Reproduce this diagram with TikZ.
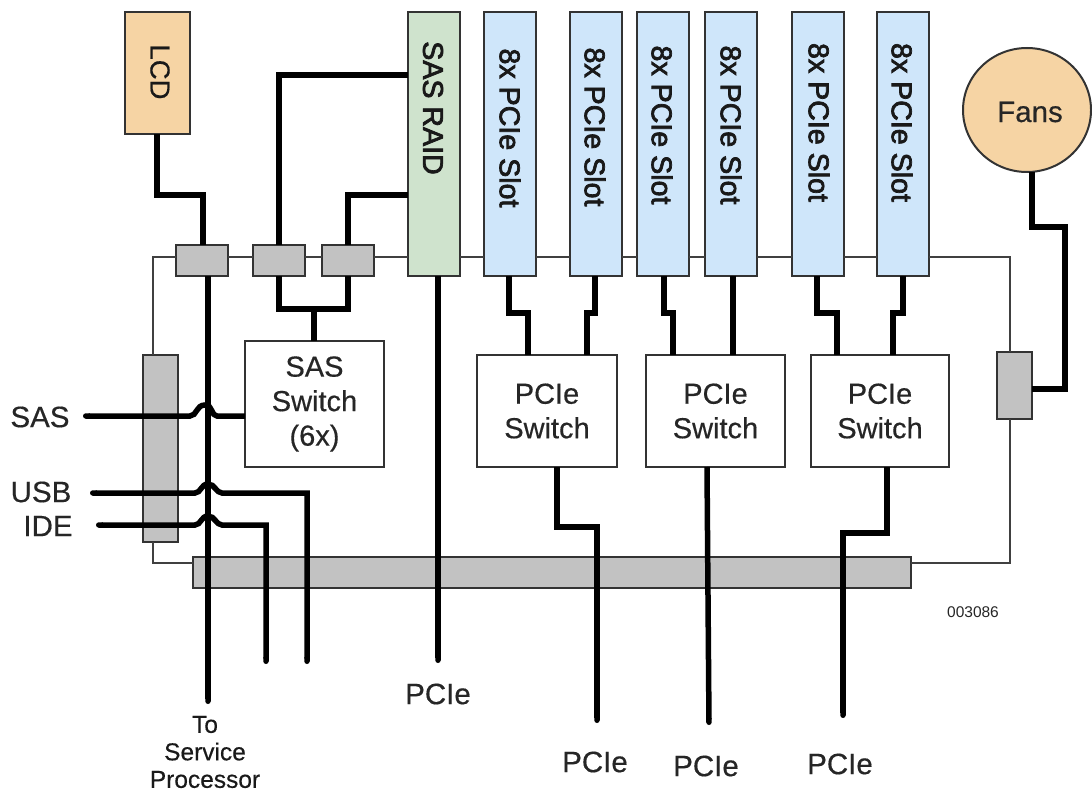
\documentclass[tikz,border=0pt]{standalone}
\usepackage{fontspec}
\usetikzlibrary{arrows.meta,shapes.geometric}
\setmainfont{Liberation Sans}
\newfontfamily\heavy[FakeBold=2.5]{Liberation Sans}
\newfontfamily\semi[FakeBold=0.4]{Liberation Sans}
\definecolor{slotblue}{HTML}{CFE6FA}
\definecolor{raidgreen}{HTML}{CFE3CD}
\definecolor{warm}{HTML}{F6D4A4}
\tikzset{
  x=1pt,y=-1pt,
  boxa/.style={draw=black!80,line width=2pt,anchor=north west,inner sep=0pt,outer sep=0pt,text=black!85},
  grayb/.style={boxa,fill=black!24},
  slot/.style={boxa,fill=slotblue,minimum width=52pt,minimum height=264pt},
  swbox/.style={boxa,fill=white,align=center,font=\semi\fontsize{29}{34.5}\selectfont},
  thinl/.style={draw=black!75,line width=2pt},
  thickl/.style={draw=black,line width=5.5pt,line join=miter},
  free/.style={-{Round Cap[]}},
  freeboth/.style={{Round Cap[]}-{Round Cap[]}},
  vtext/.style={font=\heavy\fontsize{28.6}{30}\selectfont,rotate=-90,text=black!90,inner sep=0pt},
  lab/.style={font=\semi\fontsize{29.5}{31}\selectfont,text=black!85,inner sep=0pt},
  sm/.style={font=\semi\fontsize{24.5}{27.5}\selectfont,text=black!90,inner sep=0pt,align=center},
}
\begin{document}
\begin{tikzpicture}
\useasboundingbox (0,0) rectangle (1092,791);
% boxes
\node[boxa,fill=warm,minimum width=65pt,minimum height=122pt] (lcd) at (125,12) {};
\node[vtext,font=\semi\fontsize{27.5}{30}\selectfont] (lcdt) at (160,72) {LCD};
\node[boxa,fill=raidgreen,minimum width=52pt,minimum height=264pt] (raid) at (408,12) {};
\node[slot] (s1) at (484,12) {};
\node[slot] (s2) at (570,12) {};
\node[slot] (s3) at (637,12) {};
\node[slot] (s4) at (705,12) {};
\node[slot] (s5) at (792,12) {};
\node[slot] (s6) at (877,12) {};
\node[draw=black!80,line width=2pt,ellipse,fill=warm,minimum width=128pt,minimum height=124pt,inner sep=0pt,outer sep=0pt] (fans) at (1027,110) {};
\node[grayb,minimum width=52pt,minimum height=31pt] (g1) at (176,245) {};
\node[grayb,minimum width=52pt,minimum height=31pt] (g2) at (253,245) {};
\node[grayb,minimum width=52pt,minimum height=31pt] (g3) at (322,245) {};
\node[grayb,minimum width=35pt,minimum height=187pt] (gl) at (143,355) {};
\node[grayb,minimum width=718pt,minimum height=31pt] (gb) at (193,557) {};
\node[grayb,minimum width=35pt,minimum height=67pt] (gr) at (997,352) {};
\node[swbox,minimum width=139pt,minimum height=126pt] (sw) at (245,341) {SAS\\Switch\\(6x)};
\node[swbox,minimum width=140pt,minimum height=112pt] (p1) at (477,355) {PCIe\\Switch};
\node[swbox,minimum width=139pt,minimum height=112pt] (p2) at (646,355) {PCIe\\Switch};
\node[swbox,minimum width=138pt,minimum height=112pt] (p3) at (811,355) {PCIe\\Switch};
% frame
\draw[thinl] (153,0 |- gl.north) -- (153,257) -- (g1.west |- 0,257);
\draw[thinl] (g1.east |- 0,257) -- (g2.west |- 0,257);
\draw[thinl] (g2.east |- 0,257) -- (g3.west |- 0,257);
\draw[thinl] (g3.east |- 0,257) -- (raid.west |- 0,257);
\draw[thinl] (raid.east |- 0,257) -- (s1.west |- 0,257);
\draw[thinl] (s1.east |- 0,257) -- (s2.west |- 0,257);
\draw[thinl] (s2.east |- 0,257) -- (s3.west |- 0,257);
\draw[thinl] (s3.east |- 0,257) -- (s4.west |- 0,257);
\draw[thinl] (s4.east |- 0,257) -- (s5.west |- 0,257);
\draw[thinl] (s5.east |- 0,257) -- (s6.west |- 0,257);
\draw[thinl] (s6.east |- 0,257) -- (1010,257) -- (1010,0 |- gr.north);
\draw[thinl] (153,0 |- gl.south) -- (153,563) -- (gb.west |- 0,563);
\draw[thinl] (1010,0 |- gr.south) -- (1010,563) -- (gb.east |- 0,563);
% free ends
\coordinate (esas) at (83,416);
\coordinate (eusb) at (90,493);
\coordinate (eide) at (96,525);
\coordinate (esp) at (208,704);
\coordinate (eu) at (307,664);
\coordinate (ei) at (266,664);
\coordinate (er) at (438,663);
\coordinate (e1) at (597,723);
\coordinate (e2) at (709,725);
\coordinate (e3) at (843,718);
% thick connectors
\draw[thickl] (157,0 |- lcd.south) -- (157,195) -- (203,195) -- (203,0 |- g1.north);
\draw[thickl] (279,0 |- g2.north) -- (279,75) -- (raid.west |- 0,75);
\draw[thickl] (348,0 |- g3.north) -- (348,195) -- (raid.west |- 0,195);
\draw[thickl] (279,0 |- g2.south) -- (279,309) -- (348,309) -- (348,0 |- g3.south);
\draw[thickl] (314,309) -- (sw.north -| 314,0);
\draw[thickl,free] (208,0 |- g1.south) -- (esp);
\draw[thickl,free] (sw.west |- esas) -- (217,416) .. controls (211,416) and (213,405) .. (205,405) .. controls (196,405) and (197,416) .. (190,416) -- (esas);
\draw[thickl,freeboth] (eusb) -- (195,493) .. controls (201,493) and (201,484) .. (208,484) .. controls (215,484) and (216,493) .. (222,493) -- (307,493) -- (eu);
\draw[thickl,freeboth] (eide) -- (195,525) .. controls (201,525) and (201,516) .. (208,516) .. controls (215,516) and (216,525) .. (222,525) -- (266,525) -- (ei);
\draw[thickl,free] (438,0 |- raid.south) -- (er);
\draw[thickl] (509,0 |- s1.south) -- (509,313) -- (528,313) -- (528,0 |- p1.north);
\draw[thickl] (595,0 |- s2.south) -- (595,313) -- (587,313) -- (587,0 |- p1.north);
\draw[thickl] (664,0 |- s3.south) -- (664,313) -- (673,313) -- (673,0 |- p2.north);
\draw[thickl] (733,0 |- s4.south) -- (733,0 |- p2.north);
\draw[thickl] (817,0 |- s5.south) -- (817,313) -- (837,313) -- (837,0 |- p3.north);
\draw[thickl] (903,0 |- s6.south) -- (903,313) -- (893,313) -- (893,0 |- p3.north);
\draw[thickl,free] (557,0 |- p1.south) -- (557,527) -- (597,527) -- (e1);
\draw[thickl,free] (707,0 |- p2.south) -- (e2);
\draw[thickl,free] (887,0 |- p3.south) -- (887,533) -- (843,533) -- (e3);
\draw[thickl] (1032,0 |- fans.south) -- (1032,227) -- (1065,227) -- (1065,389) -- (gr.east |- 0,389);
% labels
\node[vtext] (traid) at (433,108) {SAS RAID};
\node[vtext] (t1) at (510,128) {8x PCIe Slot};
\node[vtext] (t2) at (595,127) {8x PCIe Slot};
\node[vtext] (t3) at (662,125) {8x PCIe Slot};
\node[vtext] (t4) at (731,125) {8x PCIe Slot};
\node[vtext] (t5) at (819,122.5) {8x PCIe Slot};
\node[vtext] (t6) at (902,122.5) {8x PCIe Slot};
\node[lab] (tf) at (1030,112) {Fans};
\node[lab] (t7) at (40,417) {SAS};
\node[lab] (t8) at (41,492) {USB};
\node[lab] (t9) at (48,526) {IDE};
\node[lab] (t10) at (438,694) {PCIe};
\node[lab] (t11) at (595,762) {PCIe};
\node[lab] (t12) at (706,766) {PCIe};
\node[lab] (t13) at (840,764) {PCIe};
\node[sm] (t14) at (205,752) {To\\Service\\Processor};
\node[font=\fontsize{15.5}{18}\selectfont,text=black!85,inner sep=0pt] (t15) at (973,612) {003086};
\end{tikzpicture}
\end{document}
